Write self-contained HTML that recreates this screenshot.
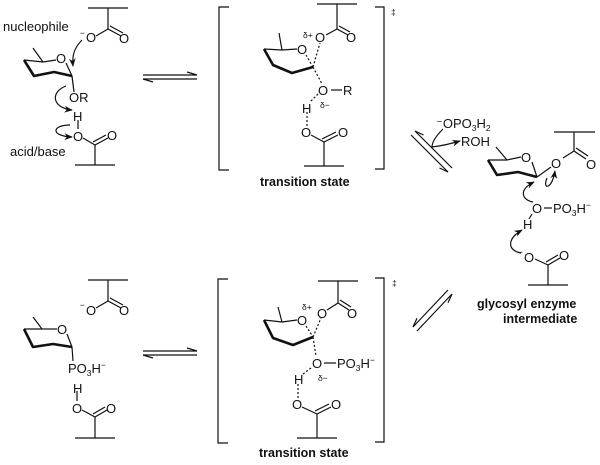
<!DOCTYPE html>
<html><head><meta charset="utf-8"><style>
html,body{margin:0;padding:0;background:#fff;}
svg{display:block;}
text{font-family:"Liberation Sans",sans-serif;font-size:13px;fill:#111;}
.b{font-weight:bold;font-size:12.5px;}
.s{font-size:8.5px;}
</style></head><body>
<svg width="600" height="465" viewBox="0 0 600 465" xmlns="http://www.w3.org/2000/svg">
<defs>
<marker id="ah" viewBox="0 0 10 10" refX="9" refY="5" markerWidth="7" markerHeight="7" orient="auto-start-reverse"><path d="M0,1 L10,5 L0,9 L3,5z" fill="#111"/></marker>
</defs>
<g stroke="#111" stroke-width="1.2" fill="none">
<line x1="33" y1="48" x2="43" y2="62"/>
<line x1="24" y1="60" x2="43" y2="62"/>
<line x1="43" y1="62" x2="56" y2="60"/>
<line x1="66" y1="63" x2="72" y2="76"/>
<polyline points="24,60 34,76 54,72 72,76" stroke-width="2.6" stroke-linejoin="round"/>
<line x1="72" y1="76" x2="74" y2="92"/>
<line x1="88" y1="8" x2="128" y2="8"/>
<line x1="108" y1="8" x2="108" y2="29"/>
<line x1="108" y1="29" x2="96" y2="36"/>
<line x1="108" y1="29" x2="121" y2="36"/>
<line x1="110" y1="26" x2="123" y2="33"/>
<line x1="78" y1="120" x2="78" y2="129"/>
<line x1="83" y1="138" x2="95" y2="145"/>
<line x1="95" y1="145" x2="108" y2="138"/>
<line x1="93" y1="142" x2="106" y2="135"/>
<line x1="95" y1="145" x2="95" y2="165"/>
<line x1="75" y1="165" x2="115" y2="165"/>
<path d="M82,40 C74,48 72,56 73,66" marker-end="url(#ah)"/>
<path d="M66,86 C50,92 52,108 72,110" marker-end="url(#ah)"/>
<path d="M70,125 C52,125 50,136 72,137" marker-end="url(#ah)"/>
<line x1="143" y1="75" x2="197" y2="75"/>
<path d="M197,75 L187,72" />
<line x1="143" y1="79" x2="197" y2="79"/>
<path d="M143,79 L153,82"/>
<polyline points="229,7 219,7 219,170 229,170"/>
<polyline points="375,7 384,7 384,169 375,169"/>
<line x1="279" y1="33" x2="282" y2="50"/>
<line x1="264" y1="49" x2="282" y2="50"/>
<line x1="282" y1="50" x2="297" y2="49"/>
<polyline points="264,49 273,65 292,73 313,67" stroke-width="2.6" stroke-linejoin="round"/>
<line x1="306" y1="55" x2="313" y2="67" stroke-dasharray="2,2"/>
<line x1="313" y1="67" x2="320" y2="43" stroke-dasharray="2,2"/>
<line x1="313" y1="67" x2="322" y2="84" stroke-dasharray="2,2"/>
<line x1="317" y1="4" x2="357" y2="4"/>
<line x1="337" y1="4" x2="337" y2="29"/>
<line x1="337" y1="29" x2="326" y2="35"/>
<line x1="337" y1="29" x2="348" y2="35"/>
<line x1="339" y1="26" x2="350" y2="32"/>
<line x1="331" y1="90" x2="342" y2="90"/>
<line x1="318" y1="94" x2="310" y2="102" stroke-dasharray="2,2"/>
<line x1="307" y1="112" x2="307" y2="126" stroke-dasharray="2,2"/>
<line x1="311" y1="135" x2="324" y2="142"/>
<line x1="324" y1="142" x2="338" y2="135"/>
<line x1="322" y1="139" x2="336" y2="132"/>
<line x1="324" y1="142" x2="324" y2="166"/>
<line x1="304" y1="166" x2="344" y2="166"/>
<line x1="415" y1="131" x2="452" y2="168"/>
<line x1="411" y1="135" x2="448" y2="172"/>
<path d="M415,131 L423.5,135"/>
<path d="M448,172 L439.5,168"/>
<path d="M443,129 C436,136 432,142 432,147 C440,146 450,144 460,141" marker-end="url(#ah)"/>
<line x1="496" y1="147" x2="507" y2="160"/>
<line x1="488" y1="160" x2="507" y2="160"/>
<line x1="507" y1="160" x2="521" y2="157"/>
<line x1="532" y1="162" x2="537" y2="177"/>
<polyline points="488,160 497,175 518,172 537,177" stroke-width="2.6" stroke-linejoin="round"/>
<line x1="537" y1="177" x2="551" y2="167"/>
<line x1="563" y1="158" x2="574" y2="151"/>
<line x1="574" y1="151" x2="586" y2="159"/>
<line x1="576" y1="148" x2="588" y2="156"/>
<line x1="574" y1="151" x2="574" y2="132"/>
<line x1="554" y1="132" x2="595" y2="132"/>
<line x1="544" y1="208" x2="552" y2="208"/>
<line x1="532" y1="214" x2="529" y2="219"/>
<path d="M533,202 C522,200 518,190 534,182" marker-end="url(#ah)"/>
<path d="M547,178 C542,190 552,190 555,171" marker-end="url(#ah)"/>
<path d="M521,253 C506,250 508,238 522,230" marker-end="url(#ah)"/>
<line x1="535" y1="259" x2="548" y2="265"/>
<line x1="548" y1="265" x2="560" y2="258"/>
<line x1="546" y1="262" x2="558" y2="255"/>
<line x1="548" y1="265" x2="548" y2="285"/>
<line x1="528" y1="285" x2="568" y2="285"/>
<line x1="88" y1="280" x2="128" y2="280"/>
<line x1="108" y1="280" x2="108" y2="301"/>
<line x1="108" y1="301" x2="96" y2="308"/>
<line x1="108" y1="301" x2="121" y2="308"/>
<line x1="110" y1="298" x2="123" y2="305"/>
<line x1="33" y1="317" x2="42" y2="329"/>
<line x1="24" y1="329" x2="42" y2="329"/>
<line x1="42" y1="329" x2="57" y2="329"/>
<line x1="67" y1="334" x2="72" y2="347"/>
<polyline points="24,329 33,347 53,344 72,347" stroke-width="2.6" stroke-linejoin="round"/>
<line x1="72" y1="347" x2="73" y2="361"/>
<line x1="77" y1="391" x2="77" y2="401"/>
<line x1="82" y1="410" x2="95" y2="417"/>
<line x1="95" y1="417" x2="107" y2="410"/>
<line x1="93" y1="414" x2="105" y2="407"/>
<line x1="95" y1="417" x2="95" y2="438"/>
<line x1="75" y1="438" x2="115" y2="438"/>
<line x1="143" y1="351" x2="197" y2="351"/>
<path d="M197,351 L187,348"/>
<line x1="143" y1="355" x2="197" y2="355"/>
<path d="M143,355 L153,358"/>
<polyline points="228,279 218,279 218,443 228,443"/>
<polyline points="375,278 384,278 384,442 375,442"/>
<line x1="278" y1="307" x2="282" y2="322"/>
<line x1="264" y1="320" x2="282" y2="322"/>
<line x1="282" y1="322" x2="297" y2="320"/>
<polyline points="264,320 273,338 293,345 313,337" stroke-width="2.6" stroke-linejoin="round"/>
<line x1="306" y1="326" x2="313" y2="337" stroke-dasharray="2,2"/>
<line x1="313" y1="337" x2="321" y2="318" stroke-dasharray="2,2"/>
<line x1="313" y1="337" x2="316" y2="356" stroke-dasharray="2,2"/>
<line x1="318" y1="281" x2="358" y2="281"/>
<line x1="338" y1="281" x2="338" y2="303"/>
<line x1="338" y1="303" x2="327" y2="310"/>
<line x1="338" y1="303" x2="349" y2="310"/>
<line x1="340" y1="300" x2="351" y2="307"/>
<line x1="324" y1="363" x2="336" y2="363"/>
<line x1="311" y1="368" x2="303" y2="374" stroke-dasharray="2,2"/>
<line x1="298" y1="384" x2="298" y2="398" stroke-dasharray="2,2"/>
<line x1="302" y1="407" x2="317" y2="414"/>
<line x1="317" y1="414" x2="331" y2="407"/>
<line x1="315" y1="411" x2="329" y2="404"/>
<line x1="317" y1="414" x2="317" y2="438"/>
<line x1="297" y1="438" x2="337" y2="438"/>
<line x1="452" y1="294" x2="417" y2="331"/>
<line x1="448" y1="290" x2="413" y2="327"/>
<path d="M452,294 L448,302.7"/>
<path d="M413,327 L417,318.3"/>
</g>
<text x="3" y="31">nucleophile</text>
<text x="10" y="156">acid/base</text>
<text x="80" y="36" class="s">−</text>
<text x="86" y="42">O</text>
<text x="119" y="43">O</text>
<text x="56" y="63">O</text>
<text x="69" y="102">OR</text>
<text x="73" y="121">H</text>
<text x="73" y="141">O</text>
<text x="107" y="140">O</text>
<text x="303" y="38" class="s">δ+</text>
<text x="297" y="54">O</text>
<text x="315" y="42">O</text>
<text x="346" y="42">O</text>
<text x="318" y="95">O</text>
<text x="343" y="95">R</text>
<text x="320" y="108" class="s">δ−</text>
<text x="302" y="113">H</text>
<text x="301" y="137">O</text>
<text x="338" y="137">O</text>
<text x="391" y="15" class="s">‡</text>
<text x="260" y="186" class="b">transition state</text>
<text x="436" y="128">⁻OPO<tspan class="s" dy="3">3</tspan><tspan dy="-3">H</tspan><tspan class="s" dy="3">2</tspan></text>
<text x="461" y="146">ROH</text>
<text x="521" y="162">O</text>
<text x="551" y="168">O</text>
<text x="586" y="169">O</text>
<text x="532" y="213">O</text>
<text x="553" y="213">PO<tspan class="s" dy="3">3</tspan><tspan dy="-3">H</tspan><tspan class="s" dy="-5">−</tspan></text>
<text x="523" y="229">H</text>
<text x="518" y="255" class="s">−</text>
<text x="524" y="262">O</text>
<text x="559" y="260">O</text>
<text x="477" y="308" class="b">glycosyl enzyme</text>
<text x="503" y="323" class="b">intermediate</text>
<text x="80" y="308" class="s">−</text>
<text x="86" y="315">O</text>
<text x="119" y="315">O</text>
<text x="57" y="334">O</text>
<text x="68" y="373">PO<tspan class="s" dy="3">3</tspan><tspan dy="-3">H</tspan><tspan class="s" dy="-5">−</tspan></text>
<text x="73" y="393">H</text>
<text x="72" y="413">O</text>
<text x="106" y="413">O</text>
<text x="302" y="310" class="s">δ+</text>
<text x="297" y="325">O</text>
<text x="317" y="318">O</text>
<text x="347" y="318">O</text>
<text x="312" y="368">O</text>
<text x="337" y="368">PO<tspan class="s" dy="3">3</tspan><tspan dy="-3">H</tspan><tspan class="s" dy="-5">−</tspan></text>
<text x="318" y="381" class="s">δ−</text>
<text x="294" y="384">H</text>
<text x="292" y="409">O</text>
<text x="331" y="409">O</text>
<text x="392" y="286" class="s">‡</text>
<text x="259" y="457" class="b">transition state</text>
</svg>
</body></html>
